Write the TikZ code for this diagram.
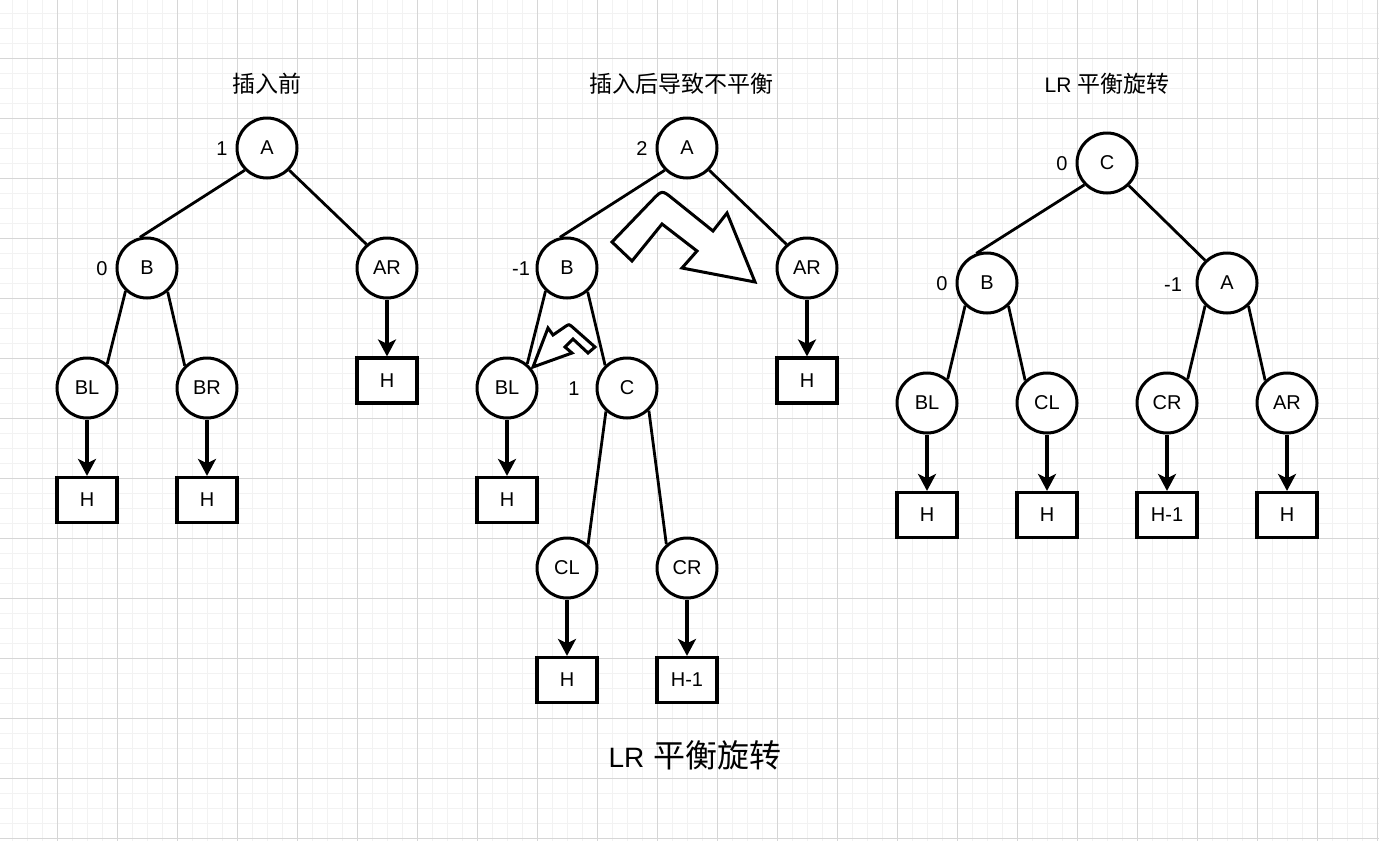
\documentclass[tikz,border=0pt]{standalone}
\usepackage{fontspec}
\setmainfont{Liberation Sans}
\newfontfamily\cjk{Noto Sans CJK SC}
\usetikzlibrary{arrows.meta,calc}
\begin{document}
\begin{tikzpicture}[x=1pt,y=-1pt,
  minorline/.style={line width=1pt,draw=black!5},
  majorline/.style={line width=1pt,draw=black!16},
  circ/.style={circle,draw,line width=3pt,minimum size=60pt,inner sep=0pt,fill=white,font=\fontsize{20}{22}\selectfont},
  hbox/.style={rectangle,draw,line width=3.2pt,minimum width=60pt,minimum height=45pt,inner sep=0pt,fill=white,font=\fontsize{20}{22}\selectfont},
  bf/.style={font=\fontsize{20}{22}\selectfont,inner sep=0pt},
  conn/.style={line width=2.8pt},
  arr/.style={line width=3.2pt,-{Stealth[length=17pt,width=18pt,inset=4.5pt]}},
  ttl/.style={font=\fontsize{23}{26}\selectfont,inner sep=0pt},
  bentarrow/.style={line width=3pt,fill=white,line join=miter}
]
\useasboundingbox (0,0) rectangle (1379,841);
\fill[white] (0,0) rectangle (1379,841);
% grid
\foreach \x in {12,27,...,1377} \draw[minorline] (\x,0) -- (\x,841);
\foreach \y in {13,28,...,838} \draw[minorline] (0,\y) -- (1379,\y);
\foreach \x in {57,117,...,1377} \draw[majorline] (\x,0) -- (\x,841);
\foreach \y in {58,118,...,838} \draw[majorline] (0,\y) -- (1379,\y);

% ---------- tree 1 ----------
\node[ttl] (t1) at (267,84) {\cjk 插入前};
\node[circ] (A1) at (267,148) {A};
\node[bf] (fA1) at (222,149) {1};
\node[circ] (B1) at (147,268) {B};
\node[bf] (fB1) at (102,269) {0};
\node[circ] (AR1) at (387,268) {AR};
\node[circ] (BL1) at (87,388) {BL};
\node[circ] (BR1) at (207,388) {BR};
\node[hbox] (hBL1) at (87,500) {H};
\node[hbox] (hBR1) at (207,500) {H};
\node[hbox] (hAR1) at (387,380.5) {H};
\draw[conn] (A1.-135) -- (B1.103);
\draw[conn] (A1.-45) -- (AR1.131);
\draw[conn] (B1.-133) -- (BL1.50);
\draw[conn] (B1.-49) -- (BR1.135);
\draw[arr] (BL1.south) -- (hBL1.north);
\draw[arr] (BR1.south) -- (hBR1.north);
\draw[arr] (AR1.south) -- (hAR1.north);

% ---------- tree 2 ----------
\node[ttl] (t2) at (681,84) {\cjk 插入后导致不平衡};
\node[circ] (A2) at (687,148) {A};
\node[bf] (fA2) at (642,149) {2};
\node[circ] (B2) at (567,268) {B};
\node[bf] (fB2) at (521,269) {-1};
\node[circ] (AR2) at (807,268) {AR};
\node[circ] (BL2) at (507,388) {BL};
\node[circ] (C2) at (627,388) {C};
\node[bf] (fC2) at (574,389) {1};
\node[circ] (CL2) at (567,568) {CL};
\node[circ] (CR2) at (687,568) {CR};
\node[hbox] (hAR2) at (807,380.5) {H};
\node[hbox] (hBL2) at (507,500) {H};
\node[hbox] (hCL2) at (567,680) {H};
\node[hbox] (hCR2) at (687,680) {H-1};
\draw[conn] (A2.-135) -- (B2.103);
\draw[conn] (A2.-45) -- (AR2.131);
\draw[conn] (B2.-133) -- (BL2.50);
\draw[conn] (B2.-49) -- (C2.134);
\draw[conn] (C2.-132) -- (CL2.48);
\draw[conn] (C2.-46) -- (CR2.131);
\draw[arr] (AR2.south) -- (hAR2.north);
\draw[arr] (BL2.south) -- (hBL2.north);
\draw[arr] (CL2.south) -- (hCL2.north);
\draw[arr] (CR2.south) -- (hCR2.north);
% big bent arrow
\coordinate (bk) at (662,190);
\draw[bentarrow] (713,231) -- ($(bk)!14pt!(713,231)$) .. controls (bk) .. ($(bk)!14pt!(612,242)$) -- (612,242) -- (632,261) -- (662,224) -- (697,251) -- (682,268) -- (755,282) -- (727,213) -- cycle;
% small bent arrow
\coordinate (sk) at (569,324);
\draw[bentarrow] (595,347) -- ($(sk)!5pt!(595,347)$) .. controls (sk) .. ($(sk)!5pt!(553,335)$) -- (553,335) -- (548,328) -- (533,367) -- (572,353) -- (565,347) -- (573,339) -- (588,353) -- cycle;
\node[inner sep=0pt] (cap) at (695,755) {\fontsize{28}{32}\selectfont LR\hspace{9pt}{\cjk\fontsize{32}{36}\selectfont 平衡旋转}};

% ---------- tree 3 ----------
\node[ttl] (t3) at (1107,84) {\fontsize{21}{24}\selectfont LR {\cjk\fontsize{23}{26}\selectfont 平衡旋转}};
\node[circ] (C3) at (1107,163) {C};
\node[bf] (fC3) at (1062,164) {0};
\node[circ] (B3) at (987,283) {B};
\node[bf] (fB3) at (942,284) {0};
\node[circ] (A3) at (1227,283) {A};
\node[bf] (fA3) at (1173,285) {-1};
\node[circ] (BL3) at (927,403) {BL};
\node[circ] (CL3) at (1047,403) {CL};
\node[circ] (CR3) at (1167,403) {CR};
\node[circ] (AR3) at (1287,403) {AR};
\node[hbox] (hBL3) at (927,515) {H};
\node[hbox] (hCL3) at (1047,515) {H};
\node[hbox] (hCR3) at (1167,515) {H-1};
\node[hbox] (hAR3) at (1287,515) {H};
\draw[conn] (C3.-136) -- (B3.110);
\draw[conn] (C3.-46) -- (A3.134);
\draw[conn] (B3.-134) -- (BL3.49);
\draw[conn] (B3.-47) -- (CL3.134);
\draw[conn] (A3.-134) -- (CR3.49);
\draw[conn] (A3.-47) -- (AR3.134);
\draw[arr] (BL3.south) -- (hBL3.north);
\draw[arr] (CL3.south) -- (hCL3.north);
\draw[arr] (CR3.south) -- (hCR3.north);
\draw[arr] (AR3.south) -- (hAR3.north);
\end{tikzpicture}
\end{document}
